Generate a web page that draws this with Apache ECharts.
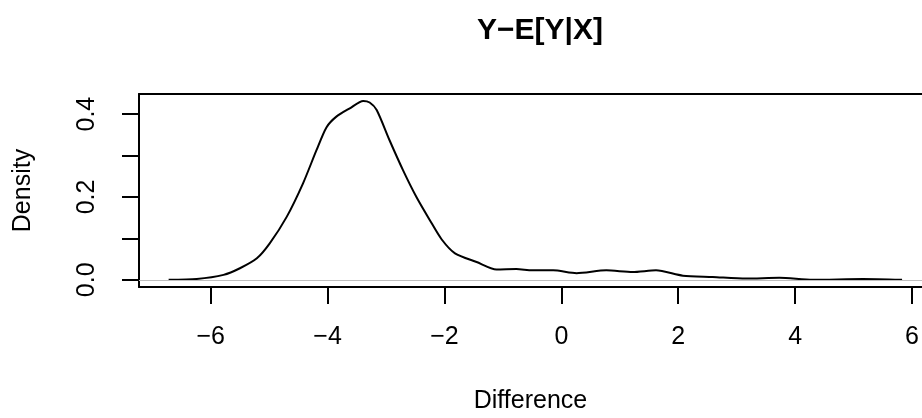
<!DOCTYPE html>
<html>
<head>
<meta charset="utf-8">
<script src="https://cdn.jsdelivr.net/npm/echarts@6/dist/echarts.min.js"></script>
<style>
html,body{margin:0;padding:0;background:#fff;}
#chart{width:922px;height:418px;}
</style>
</head>
<body>
<div id="chart"></div>
<script>
// Density estimate of Y - E[Y|X]
var diffX = [-6.72, -6.24, -5.78, -5.50, -5.21, -4.99, -4.70, -4.42, -4.19, -4.02, -3.85, -3.62, -3.39, -3.28, -3.16, -2.94, -2.71, -2.48, -2.25, -2.05, -1.82, -1.45, -1.11, -0.77, -0.50, -0.14, 0.26, 0.77, 1.22, 1.62, 2.08, 2.59, 3.16, 3.73, 4.30, 5.16, 5.83];
var density = [0.000, 0.002, 0.012, 0.028, 0.052, 0.088, 0.152, 0.233, 0.313, 0.368, 0.394, 0.414, 0.432, 0.428, 0.410, 0.337, 0.265, 0.200, 0.144, 0.098, 0.064, 0.043, 0.025, 0.026, 0.023, 0.023, 0.016, 0.023, 0.019, 0.023, 0.010, 0.007, 0.003, 0.005, 0.000, 0.002, 0.000];
var xTicks = [-6, -4, -2, 0, 2, 4, 6];
var yTicks = [0, 0.1, 0.2, 0.3, 0.4];
var yLabels = [0, 0.2, 0.4];
var titleText = 'Y\u2212E[Y|X]';
var xName = 'Difference';
var yName = 'Density';

var FONT = '"Liberation Sans", Arial, Helvetica, sans-serif';
var pts = diffX.map(function (x, i) { return [x, density[i]]; });
var fmtMinus = function (v) { return v < 0 ? '\u2212' + Math.abs(v) : String(v); };
var AX_LINE = {show: true, onZero: false, lineStyle: {color: '#000', width: 2}};

var chart = echarts.init(document.getElementById('chart'), null, {renderer: 'canvas'});
chart.setOption({
  backgroundColor: '#ffffff',
  animation: false,
  title: {
    text: titleText,
    left: 535,
    textAlign: 'center',
    top: 11,
    textStyle: {fontFamily: FONT, fontSize: 30, fontWeight: 'bold', color: '#000'}
  },
  grid: {left: 139, top: 94, width: 783, height: 193, show: false},
  xAxis: [{
    type: 'value',
    position: 'bottom',
    min: -7.227, max: 6.171,
    splitLine: {show: false},
    axisLine: AX_LINE,
    axisTick: {show: true, length: 17, customValues: xTicks, lineStyle: {color: '#000', width: 2}},
    axisLabel: {show: true, customValues: xTicks, margin: 38, formatter: fmtMinus,
      fontFamily: FONT, fontSize: 25, color: '#000'},
    name: xName, nameLocation: 'middle', nameGap: 102,
    nameTextStyle: {fontFamily: FONT, fontSize: 25, color: '#000'}
  }, {
    type: 'value',
    position: 'top',
    min: -7.227, max: 6.171,
    splitLine: {show: false},
    axisLine: AX_LINE,
    axisTick: {show: false},
    axisLabel: {show: false}
  }],
  yAxis: {
    type: 'value',
    min: -0.0173, max: 0.4486,
    splitLine: {show: false},
    axisLine: AX_LINE,
    axisTick: {show: true, length: 17, customValues: yTicks, lineStyle: {color: '#000', width: 2}},
    axisLabel: {show: true, customValues: yLabels, rotate: 90, margin: 39,
      formatter: function (v) { return v.toFixed(1); },
      fontFamily: FONT, fontSize: 25, color: '#000'},
    name: yName, nameLocation: 'middle', nameGap: 103,
    nameTextStyle: {fontFamily: FONT, fontSize: 25, color: '#000'}
  },
  series: [{
    type: 'line',
    xAxisIndex: 0,
    data: pts,
    smooth: 0.25,
    showSymbol: false,
    lineStyle: {color: '#000', width: 2},
    markLine: {
      silent: true,
      symbol: ['none', 'none'],
      label: {show: false},
      lineStyle: {color: '#bebebe', width: 1.2, type: 'solid'},
      data: [{yAxis: 0}]
    }
  }]
});
</script>
</body>
</html>
